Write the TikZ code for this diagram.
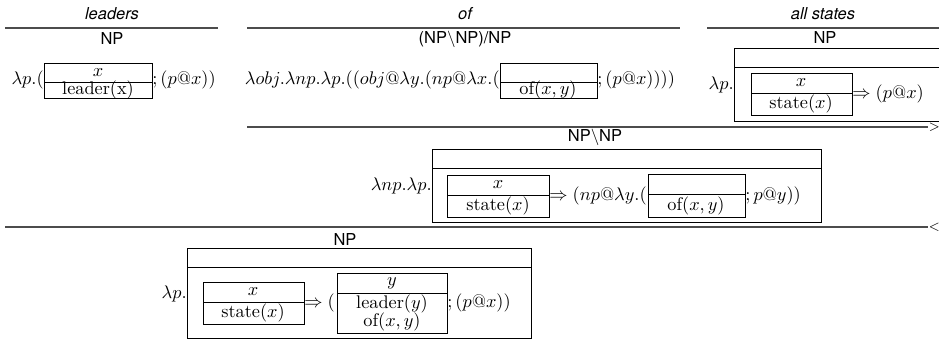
\documentclass[tikz,border=0pt]{standalone}
\usepackage{amsmath}
\usepackage{fontspec}
\setsansfont{TeX Gyre Heros}
\usepackage{tikz}
\usetikzlibrary{positioning}

\tikzset{
	word/.style={font=\sffamily\itshape\small},
	cat/.style={font=\sffamily\small, inner sep=1pt},
	sem/.style={inner sep=0pt},
	drs/.style={draw, line width=0.5pt},
	comb/.style={draw=black!70, line width=0.6pt},
	combsym/.style={inner sep=0pt, anchor=west, font=\scriptsize}
}

\begin{document}
\begin{tikzpicture}[x=0.547pt, y=-0.547pt]
	\useasboundingbox (0,0) rectangle (939,342);
	\clip (0,0) rectangle (939,342);
	% lexical entries
	\node[word] (w1) at (112,14) {leaders};
	\node[word] (w2) at (465,14) {of};
	\node[word] (w3) at (823,14) {all states};
	\draw[comb] (5,28) -- (218,28);
	\draw[comb] (247,28) -- (680,28);
	\draw[comb] (707,28) -- (950,28);
	\node[cat] (c1) at (112,39) {NP};
	\node[cat] (c2) at (465,39) {(NP$\backslash$NP)/NP};
	\node[cat] (c3) at (825,38) {NP};
	% leaders
	\node[sem, anchor=east] (l1) at (44,80) {$\lambda p.($};
	\draw[drs] (44,63) rectangle (152,98);
	\draw[drs] (44,82) -- (152,82);
	\node (l1x) at (98,73) {$x$};
	\node (l1c) at (98,90) {leader(x)};
	\node[sem, anchor=west] (l1r) at (152,80) {$;(p@x))$};
	% of
	\node[sem, anchor=east] (l2) at (500,80) {$\lambda obj.\lambda np.\lambda p.((obj@\lambda y.(np@\lambda x.($};
	\draw[drs] (500,63) rectangle (597,98);
	\draw[drs] (500,82) -- (597,82);
	\node (l2c) at (548,90) {$\mathrm{of}(x,y)$};
	\node[sem, anchor=west] (l2r) at (597,80) {$;(p@x))))$};
	% all states
	\node[sem, anchor=east] (l3) at (734,85) {$\lambda p.$};
	\draw[drs] (734,48) rectangle (960,121);
	\draw[drs] (734,67) -- (960,67);
	\draw[drs] (751,73) rectangle (852,115);
	\draw[drs] (751,93) -- (852,93);
	\node (l3x) at (801,83) {$x$};
	\node (l3c) at (801,104) {$\mathrm{state}(x)$};
	\node[sem, anchor=west] (l3r) at (852,94) {$\Rightarrow (p@x)$};
	% forward application
	\coordinate (f1) at (247,127);
	\coordinate (f2) at (928,127);
	\draw[comb] (f1) -- (f2) node[combsym] (fa) {$>$};
	\node[cat] (c4) at (595,137) {NP$\backslash$NP};
	\node[sem, anchor=east] (m1) at (432,186) {$\lambda np.\lambda p.$};
	\draw[drs] (432,149) rectangle (821,222);
	\draw[drs] (432,168) -- (821,168);
	\draw[drs] (447,175) rectangle (549,217);
	\draw[drs] (447,195) -- (549,195);
	\node (m1x) at (498,185) {$x$};
	\node (m1c) at (498,206) {$\mathrm{state}(x)$};
	\node[sem, anchor=west] (m2) at (549,196) {$\Rightarrow (np@\lambda y.($};
	\draw[drs] (648,174) rectangle (745,217);
	\draw[drs] (648,194) -- (745,194);
	\node (m2c) at (696,206) {$\mathrm{of}(x,y)$};
	\node[sem, anchor=west] (m3) at (745,196) {$;p@y))$};
	% backward application
	\coordinate (b1) at (5,227);
	\coordinate (b2) at (928,227);
	\draw[comb] (b1) -- (b2) node[combsym] (ba) {$<$};
	\node[cat] (c5) at (345,240) {NP};
	\node[sem, anchor=east] (r1) at (187,294) {$\lambda p.$};
	\draw[drs] (187,248) rectangle (531,338);
	\draw[drs] (187,267) -- (531,267);
	\draw[drs] (203,282) rectangle (304,324);
	\draw[drs] (203,302) -- (304,302);
	\node (r1x) at (253,292) {$x$};
	\node (r1c) at (253,313) {$\mathrm{state}(x)$};
	\node[sem, anchor=west] (r2) at (304,303) {$\Rightarrow ($};
	\draw[drs] (337,273) rectangle (447,333);
	\draw[drs] (337,293) -- (447,293);
	\node (r2y) at (392,283) {$y$};
	\node (r2c) at (392,304) {$\mathrm{leader}(y)$};
	\node (r2d) at (392,322) {$\mathrm{of}(x,y)$};
	\node[sem, anchor=west] (r3) at (447,303) {$;(p@x))$};
\end{tikzpicture}
\end{document}
